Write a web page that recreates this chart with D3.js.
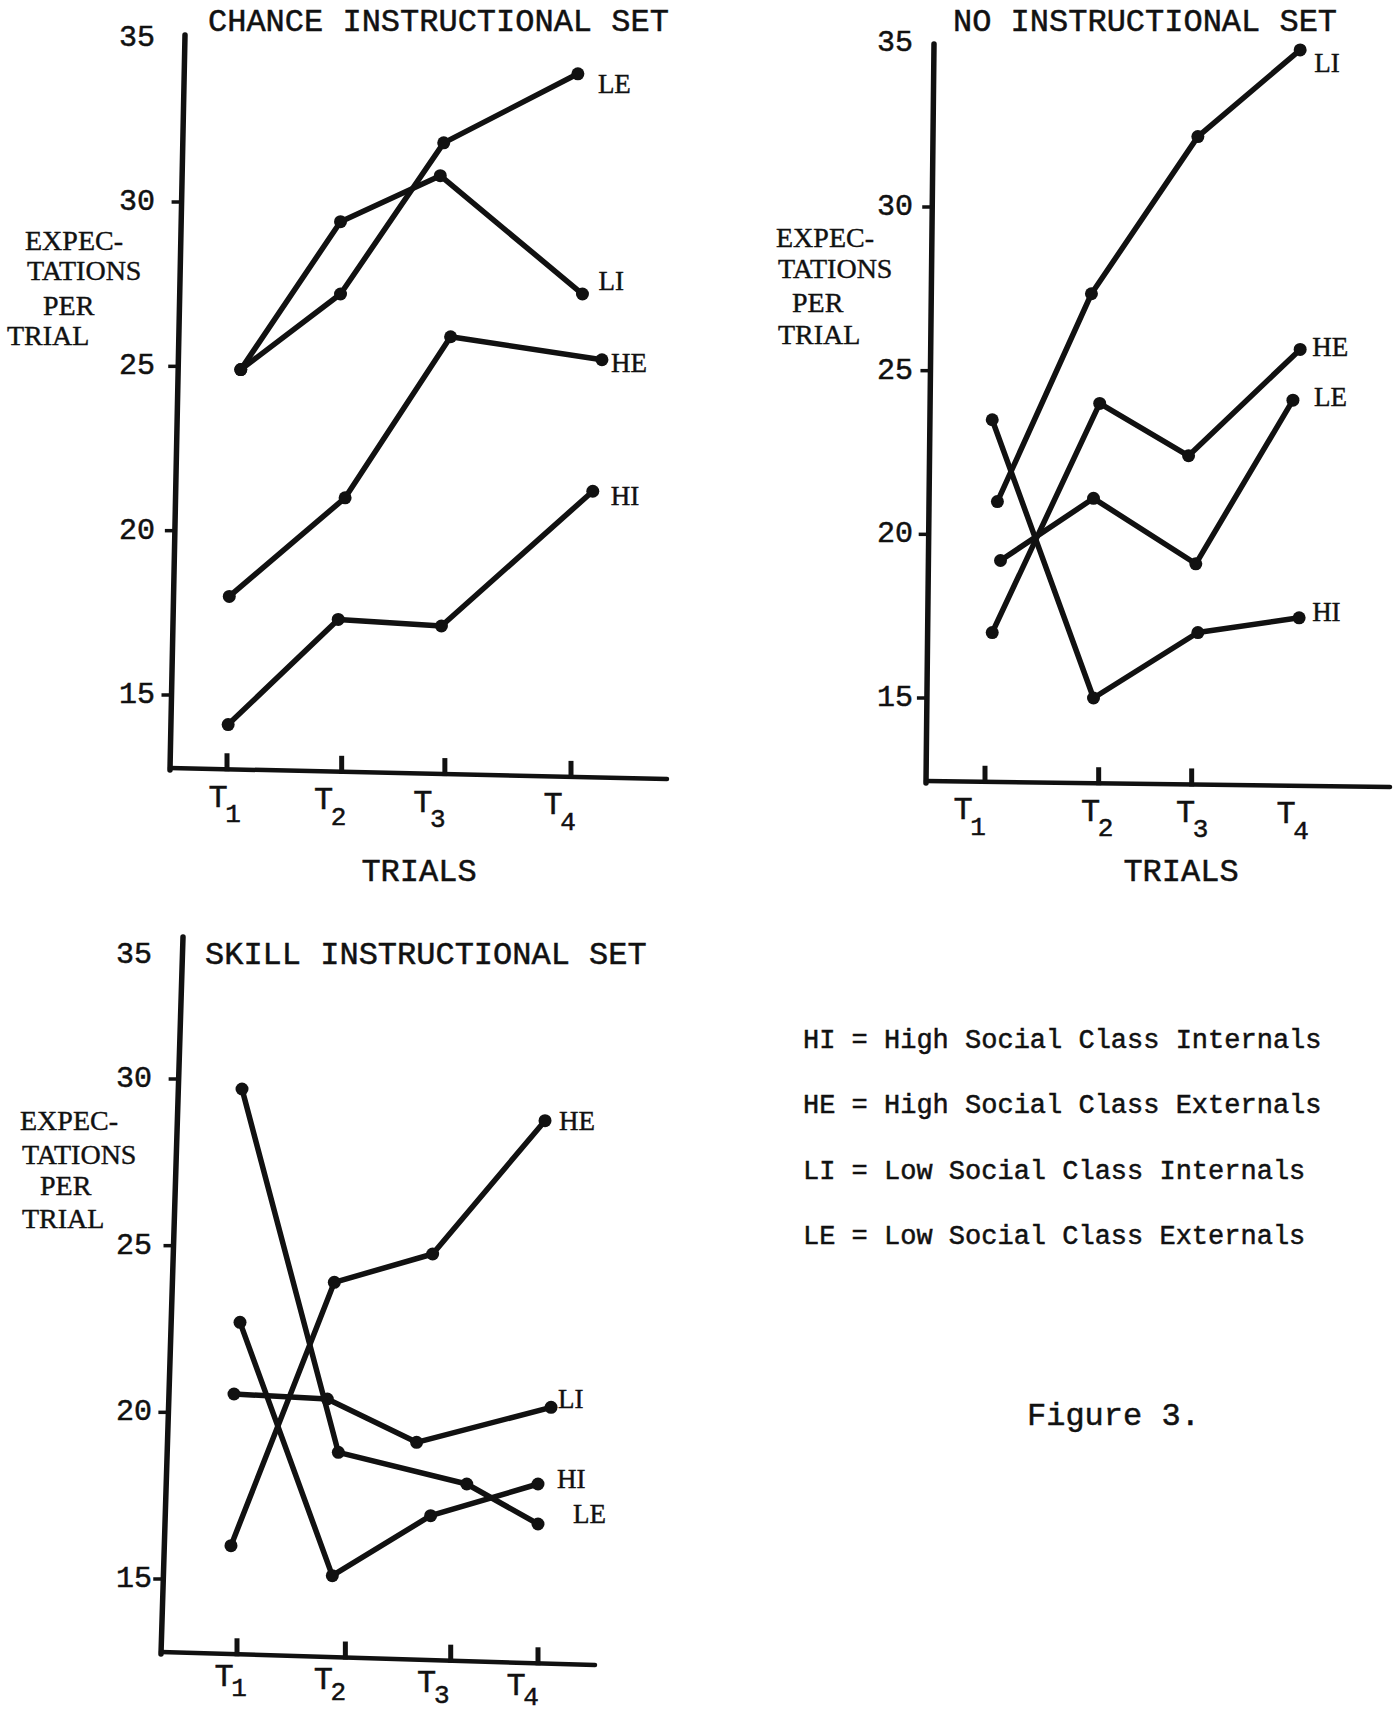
<!DOCTYPE html>
<html>
<head>
<meta charset="utf-8">
<script src="https://cdn.jsdelivr.net/npm/d3@7"></script>
<style>
  body { margin: 0; background: #fff; }
  text { fill: #111; }
  .mono { font-family: "Liberation Mono", "DejaVu Sans Mono", monospace; stroke: #111; stroke-width: 0.5px; }
  .serif { font-family: "Liberation Serif", "DejaVu Serif", serif; stroke: #111; stroke-width: 0.4px; }
</style>
</head>
<body>
<div id="chart"></div>
<script>
// trial subscripts and group names
const trials = ["1", "2", "3", "4"];
const yTickValues = [15, 20, 25, 30];
const yTopLabel = "35";
const yLabelLines = ["EXPEC-", "TATIONS", "PER", "TRIAL"];
const legendLines = [
    "HI = High Social Class Internals",
    "HE = High Social Class Externals",
    "LI = Low Social Class Internals",
    "LE = Low Social Class Externals"
];

// where T1..T4 sit on each hand drawn axis (trial units)
const chanceTicks = [1, 2.0, 2.9, 4];
const noneTicks = [1, 2.1, 3.0, 4];
const skillTicks = [1, 2.08, 3.13, 4];

// [trial position, expectations per trial]
const chanceHI = [[1.01, 14.1], [1.97, 17.3], [2.87, 17.1], [4.19, 21.2]];
const chanceHE = [[1.02, 18.0], [2.03, 21.0], [2.95, 25.9], [4.27, 25.2]];
const chanceLI = [[1.12, 24.9], [1.99, 29.4], [2.86, 30.8], [4.10, 27.2]];
const chanceLE = [[1.12, 24.9], [1.99, 27.2], [2.89, 31.8], [4.06, 33.9]];

const noneHI = [[1.07, 23.5], [2.05, 15.0], [3.06, 17.0], [4.04, 17.45]];
const noneHE = [[1.07, 17.0], [2.11, 24.0], [2.97, 22.4], [4.05, 25.65]];
const noneLI = [[1.12, 21.0], [2.03, 27.35], [3.06, 32.15], [4.05, 34.8]];
const noneLE = [[1.15, 19.2], [2.05, 21.1], [3.04, 19.1], [3.98, 24.1]];

const skillHI = [[1.03, 22.7], [1.95, 15.1], [2.93, 16.9], [4.0, 17.85]];
const skillHE = [[0.94, 16.0], [1.97, 23.9], [2.95, 24.75], [4.07, 28.75]];
const skillLI = [[0.97, 20.55], [1.90, 20.4], [2.79, 19.1], [4.13, 20.15]];
const skillLE = [[1.05, 29.7], [2.01, 18.8], [3.29, 17.85], [4.0, 16.65]];

// layout of the three panels (pixels)
const panels = [
    {
        title: "CHANCE INSTRUCTIONAL SET", titleX: 208, titleY: 22,
        ticks: chanceTicks, tickMarks: 4,
        series: [["HI", chanceHI], ["HE", chanceHE], ["LI", chanceLI], ["LE", chanceLE]],
        labelOffset: { HI: [18, 5], HE: [9, 3], LI: [16, -13], LE: [20, 10] },
        xRange: [227, 571], yRange: [695, 202],
        yTop: { x: 185, y: 35 }, origin: { x: 170, y: 768 }, xEnd: { x: 667, y: 779 },
        tickLabelX: 155, topLabelValue: 35, tDx: [-9, -18, -22, -18],
        tDy: [29, 46],
        trials: { x: 419, y: 872 },
        yLabelX: [25, 27, 43, 7], yLabelY: [240, 270, 305, 335]
    },
    {
        title: "NO INSTRUCTIONAL SET", titleX: 953, titleY: 22,
        ticks: noneTicks, tickMarks: 3,
        series: [["HI", noneHI], ["HE", noneHE], ["LI", noneLI], ["LE", noneLE]],
        labelOffset: { HI: [13, -6], HE: [12, -2], LI: [14, 13], LE: [21, -3] },
        xRange: [985, 1295], yRange: [698, 207],
        yTop: { x: 934, y: 44 }, origin: { x: 926, y: 781 }, xEnd: { x: 1390, y: 787 },
        tickLabelX: 913, topLabelValue: 35, tDx: [-22, -8, -6, -9],
        tDy: [29, 46],
        trials: { x: 1181, y: 872 },
        yLabelX: [776, 778, 792, 778], yLabelY: [237, 268, 302, 334]
    },
    {
        title: "SKILL INSTRUCTIONAL SET", titleX: 205, titleY: 955,
        ticks: skillTicks, tickMarks: 4,
        series: [["HI", skillHI], ["HE", skillHE], ["LI", skillLI], ["LE", skillLE]],
        labelOffset: { HI: [19, -5], HE: [14, 0], LI: [7, -8], LE: [35, -10] },
        xRange: [237, 538], yRange: [1579, 1079],
        yTop: { x: 183, y: 937 }, origin: { x: 161, y: 1652 }, xEnd: { x: 595, y: 1665 },
        tickLabelX: 152, topLabelValue: 33.72, tDx: [-13, -22, -24, -22],
        tDy: [23, 35],
        trials: null,
        yLabelX: [20, 22, 40, 22], yLabelY: [1120, 1154, 1185, 1218]
    }
];

const svg = d3.select("#chart")
    .append("svg")
    .attr("width", 1399)
    .attr("height", 1712)
    .style("background", "#fff");

panels.forEach(p => {
    const x = d3.scaleLinear().domain([1, 4]).range(p.xRange);
    const y = d3.scaleLinear().domain([15, 30]).range(p.yRange);
    const g = svg.append("g");

    // the hand drawn axes lean a little
    const yAxisX = py => p.origin.x + (p.yTop.x - p.origin.x) * (p.origin.y - py) / (p.origin.y - p.yTop.y);
    const xAxisY = px => p.origin.y + (p.xEnd.y - p.origin.y) * (px - p.origin.x) / (p.xEnd.x - p.origin.x);

    g.append("line")
        .attr("x1", p.origin.x).attr("y1", p.origin.y + 2)
        .attr("x2", p.yTop.x).attr("y2", p.yTop.y)
        .attr("stroke", "#111").attr("stroke-width", 5.5).attr("stroke-linecap", "round");

    g.append("line")
        .attr("x1", p.origin.x).attr("y1", p.origin.y)
        .attr("x2", p.xEnd.x).attr("y2", p.xEnd.y)
        .attr("stroke", "#111").attr("stroke-width", 4.5).attr("stroke-linecap", "round");

    // y ticks
    g.selectAll(".ytick")
        .data(yTickValues)
        .enter()
        .append("line")
        .attr("x1", d => yAxisX(y(d)) - 10)
        .attr("x2", d => yAxisX(y(d)))
        .attr("y1", d => y(d))
        .attr("y2", d => y(d))
        .attr("stroke", "#111").attr("stroke-width", 3.5);

    g.selectAll(".ylab")
        .data(yTickValues.map(String).concat([yTopLabel]))
        .enter()
        .append("text")
        .attr("class", "mono")
        .attr("x", p.tickLabelX)
        .attr("y", d => d === yTopLabel ? y(p.topLabelValue) : y(+d))
        .attr("text-anchor", "end")
        .attr("dominant-baseline", "central")
        .style("font-size", "30px")
        .text(d => d);

    // x ticks (T1..T4)
    g.selectAll(".xtick")
        .data(p.ticks.slice(0, p.tickMarks))
        .enter()
        .append("line")
        .attr("x1", d => x(d)).attr("x2", d => x(d))
        .attr("y1", d => xAxisY(x(d)) + 2)
        .attr("y2", d => xAxisY(x(d)) - 16)
        .attr("stroke", "#111").attr("stroke-width", 5);

    p.ticks.forEach((t, i) => {
        const tx = x(t) + p.tDx[i];
        const base = xAxisY(x(t));
        g.append("text")
            .attr("class", "mono")
            .attr("x", tx)
            .attr("y", base + p.tDy[0])
            .attr("text-anchor", "middle")
            .attr("dominant-baseline", "central")
            .style("font-size", "32px")
            .text("T");
        g.append("text")
            .attr("class", "mono")
            .attr("x", tx + 15)
            .attr("y", base + p.tDy[1])
            .attr("text-anchor", "middle")
            .attr("dominant-baseline", "central")
            .style("font-size", "26px")
            .text(trials[i]);
    });

    // title
    g.append("text")
        .attr("class", "mono")
        .attr("x", p.titleX)
        .attr("y", p.titleY)
        .attr("dominant-baseline", "central")
        .style("font-size", "32px")
        .text(p.title);

    if (p.trials) {
        g.append("text")
            .attr("class", "mono")
            .attr("x", p.trials.x)
            .attr("y", p.trials.y)
            .attr("text-anchor", "middle")
            .attr("dominant-baseline", "central")
            .style("font-size", "32px")
            .text("TRIALS");
    }

    // y axis title
    g.selectAll(".ytitle")
        .data(yLabelLines)
        .enter()
        .append("text")
        .attr("class", "serif")
        .attr("x", (d, i) => p.yLabelX[i])
        .attr("y", (d, i) => p.yLabelY[i])
        .attr("dominant-baseline", "central")
        .style("font-size", "28px")
        .text(d => d);

    // series lines with dots
    const line = d3.line()
        .x(d => x(d[0]))
        .y(d => y(d[1]));

    p.series.forEach(([name, pts]) => {
        g.append("path")
            .datum(pts)
            .attr("d", line)
            .attr("fill", "none")
            .attr("stroke", "#111")
            .attr("stroke-width", 5.5)
            .attr("stroke-linejoin", "round")
            .attr("stroke-linecap", "round");

        g.selectAll(null)
            .data(pts)
            .enter()
            .append("circle")
            .attr("cx", d => x(d[0]))
            .attr("cy", d => y(d[1]))
            .attr("r", 6.5)
            .attr("fill", "#111");

        const last = pts[pts.length - 1];
        const off = p.labelOffset[name];
        g.append("text")
            .attr("class", "serif")
            .attr("x", x(last[0]) + off[0])
            .attr("y", y(last[1]) + off[1])
            .attr("dominant-baseline", "central")
            .style("font-size", "27px")
            .text(name);
    });
});

// legend
svg.selectAll(".legend")
    .data(legendLines)
    .enter()
    .append("text")
    .attr("class", "mono")
    .attr("x", 803)
    .attr("y", (d, i) => 1041 + i * 65.3)
    .attr("dominant-baseline", "central")
    .style("font-size", "27px")
    .text(d => d);

svg.append("text")
    .attr("class", "mono")
    .attr("x", 1027)
    .attr("y", 1416)
    .attr("dominant-baseline", "central")
    .style("font-size", "32px")
    .text("Figure 3.");
</script>
</body>
</html>
